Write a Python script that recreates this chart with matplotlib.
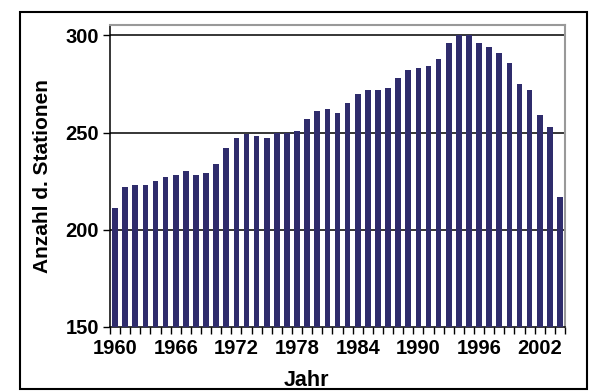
import matplotlib
matplotlib.use('Agg')
import matplotlib.pyplot as plt
from matplotlib.patches import Rectangle
import numpy as np

# Anzahl der Stationen pro Jahr
years = list(range(1960, 2005))
stations = [211, 222, 223, 223, 225, 227, 228, 230, 228, 229,
            234, 242, 247, 249, 248, 247, 250, 250, 251, 257,
            261, 262, 260, 265, 270, 272, 272, 273, 278, 282,
            283, 284, 288, 296, 300, 300, 296, 294, 291, 286,
            275, 272, 259, 253, 217]
label_years = [1960, 1966, 1972, 1978, 1984, 1990, 1996, 2002]
y_ticks = [150, 200, 250, 300]

plt.rcParams['font.family'] = ['Liberation Sans', 'DejaVu Sans']
plt.rcParams['font.weight'] = 'bold'

fig = plt.figure(figsize=(5.95, 3.92), dpi=100)
ax = fig.add_axes([110 / 595, 1 - 327 / 392, 455 / 595, 302 / 392])

ax.bar(years, stations, width=0.56, color='#2f2c6c', zorder=3)

ax.set_xlim(years[0] - 0.5, years[-1] + 0.5)
ax.set_ylim(150, 305.3)

# Gitterlinien
for v in y_ticks[1:]:
    ax.axhline(v, color='black', lw=1.1, zorder=2)

ax.set_yticks(y_ticks)
ax.tick_params(axis='y', length=5, width=1, labelsize=14.5, pad=3)

# Beschriftung in der Mitte, Striche zwischen den Kategorien
ax.set_xticks(label_years)
ax.set_xticks(np.arange(years[0] - 0.5, years[-1] + 1), minor=True)
ax.tick_params(axis='x', which='major', length=0, labelsize=14.5, pad=9)
ax.tick_params(axis='x', which='minor', length=5, width=1)

for lbl in ax.get_xticklabels() + ax.get_yticklabels():
    lbl.set_fontweight('bold')

ax.spines['left'].set_color('black')
ax.spines['bottom'].set_color('black')
ax.spines['left'].set_linewidth(1.1)
ax.spines['bottom'].set_linewidth(1.1)
ax.spines['top'].set_color('#999999')
ax.spines['right'].set_color('#999999')
ax.spines['top'].set_linewidth(1.5)
ax.spines['right'].set_linewidth(1.5)

fig.text(43 / 595, 1 - 176 / 392, 'Anzahl d. Stationen', rotation=90,
         ha='center', va='center', fontsize=15, fontweight='bold')
fig.text(306 / 595, 1 - 380 / 392, 'Jahr', ha='center', va='center',
         fontsize=15.5, fontweight='bold')

# Rahmen um das ganze Diagramm
fig.patches.append(Rectangle((20 / 595, 1 - 389 / 392), 567 / 595, 377 / 392,
                             transform=fig.transFigure, fill=False,
                             edgecolor='black', lw=1.5))

fig.savefig('out.png', dpi=100)
